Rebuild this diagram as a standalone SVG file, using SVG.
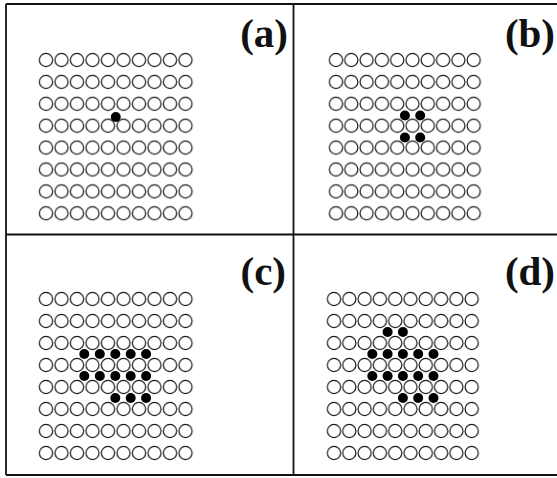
<svg xmlns="http://www.w3.org/2000/svg" xmlns:xlink="http://www.w3.org/1999/xlink" width="557" height="478" viewBox="0 0 557 478">
  <style>
    .frame { stroke: #111; stroke-width: 1.8; fill: none; }
    .ring { fill: none; stroke: #1a1a1a; stroke-width: 1.2; }
    .dot { fill: #000; }
    .label { font-family: "Liberation Serif", "Times New Roman", serif; font-weight: bold; font-size: 41px; fill: #111; text-anchor: end; }
  </style>
  <defs>
    <circle id="ring" class="ring" r="6.6"/>
    <!-- one lattice site per tile, centred in the tile -->
    <pattern id="latA" patternUnits="userSpaceOnUse" x="38.25" y="49.05" width="15.5" height="21.9">
      <use xlink:href="#ring" href="#ring" x="7.75" y="10.95"/>
    </pattern>
    <pattern id="latB" patternUnits="userSpaceOnUse" x="328.35" y="49.05" width="15.3" height="21.9">
      <use xlink:href="#ring" href="#ring" x="7.65" y="10.95"/>
    </pattern>
    <pattern id="latC" patternUnits="userSpaceOnUse" x="38.25" y="288" width="15.5" height="22">
      <use xlink:href="#ring" href="#ring" x="7.75" y="11"/>
    </pattern>
    <pattern id="latD" patternUnits="userSpaceOnUse" x="326.35" y="288" width="15.3" height="22">
      <use xlink:href="#ring" href="#ring" x="7.65" y="11"/>
    </pattern>
  </defs>

  <rect width="557" height="478" fill="#fff"/>

  <!-- outer frame and dividers -->
  <g id="frame" class="frame">
    <line x1="6" y1="4" x2="557" y2="4"/>
    <line x1="6" y1="475" x2="557" y2="475"/>
    <line x1="6" y1="4" x2="6" y2="475"/>
    <line x1="293.5" y1="4" x2="293.5" y2="475"/>
    <line x1="6" y1="234.5" x2="557" y2="234.5"/>
  </g>

  <!-- (a) single adsorbate -->
  <g id="panel-a">
    <rect x="38.25" y="49.05" width="155" height="175.2" fill="url(#latA)"/>
    <circle class="dot" cx="115.75" cy="117" r="5"/>
    <text class="label" x="288" y="47">(a)</text>
  </g>

  <!-- (b) four adsorbates around one site -->
  <g id="panel-b">
    <rect x="328.35" y="49.05" width="153" height="175.2" fill="url(#latB)"/>
    <g class="dot">
      <circle cx="404.9" cy="115.5" r="5"/>
      <circle cx="420.2" cy="115.5" r="5"/>
      <circle cx="404.9" cy="137.5" r="5"/>
      <circle cx="420.2" cy="137.5" r="5"/>
    </g>
    <text class="label" x="555" y="47">(b)</text>
  </g>

  <!-- (c) island of thirteen -->
  <g id="panel-c">
    <rect x="38.25" y="288" width="155" height="176" fill="url(#latC)"/>
    <g class="dot">
      <circle cx="84.3" cy="354" r="5"/>
      <circle cx="99.8" cy="354" r="5"/>
      <circle cx="115.3" cy="354" r="5"/>
      <circle cx="130.7" cy="354" r="5"/>
      <circle cx="146.1" cy="354" r="5"/>
      <circle cx="84.3" cy="376" r="5"/>
      <circle cx="99.8" cy="376" r="5"/>
      <circle cx="115.3" cy="376" r="5"/>
      <circle cx="130.7" cy="376" r="5"/>
      <circle cx="146.1" cy="376" r="5"/>
      <circle cx="115.3" cy="398" r="5"/>
      <circle cx="130.7" cy="398" r="5"/>
      <circle cx="146.1" cy="398" r="5"/>
    </g>
    <text class="label" x="286" y="285">(c)</text>
  </g>

  <!-- (d) island of fifteen -->
  <g id="panel-d">
    <rect x="326.35" y="288" width="153" height="176" fill="url(#latD)"/>
    <g class="dot">
      <circle cx="387.6" cy="332" r="5"/>
      <circle cx="402.9" cy="332" r="5"/>
      <circle cx="372.3" cy="354" r="5"/>
      <circle cx="387.6" cy="354" r="5"/>
      <circle cx="402.9" cy="354" r="5"/>
      <circle cx="418.2" cy="354" r="5"/>
      <circle cx="433.5" cy="354" r="5"/>
      <circle cx="372.3" cy="376" r="5"/>
      <circle cx="387.6" cy="376" r="5"/>
      <circle cx="402.9" cy="376" r="5"/>
      <circle cx="418.2" cy="376" r="5"/>
      <circle cx="433.5" cy="376" r="5"/>
      <circle cx="402.9" cy="398" r="5"/>
      <circle cx="418.2" cy="398" r="5"/>
      <circle cx="433.5" cy="398" r="5"/>
    </g>
    <text class="label" x="555" y="285">(d)</text>
  </g>
</svg>
